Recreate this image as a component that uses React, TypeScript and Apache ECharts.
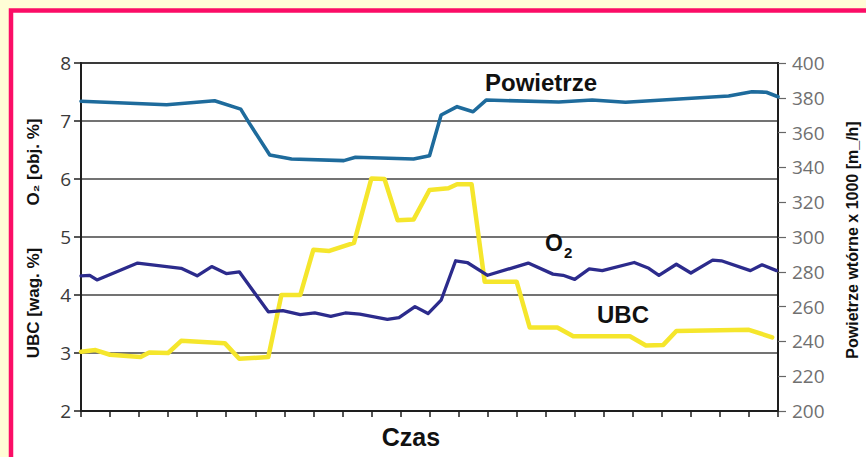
import React, { useEffect, useRef } from "react";
import * as echarts from "echarts";

// Powietrze wtórne (right axis, x1000 m3/h)
const powTime = [0, 2.95, 4.6, 5.5, 5.8, 6.5, 7.25, 9.05, 9.45, 11.45, 12.0, 12.4, 12.95, 13.5, 13.95, 16.45, 17.6, 18.75, 22.3, 23.1, 23.6, 24];
const powValues = [378, 376, 378.3, 373.5, 365.3, 347.1, 344.8, 343.9, 345.8, 344.8, 346.7, 370.1, 374.9, 372, 378.7, 377.6, 378.7, 377.4, 381, 383.5, 383.2, 380.6];

// O2 [obj. %] (left axis)
const o2Time = [0, 0.3, 0.55, 1.95, 3.45, 4.0, 4.5, 5.0, 5.45, 6.45, 6.95, 7.55, 8.05, 8.6, 9.1, 9.6, 10.55, 10.95, 11.5, 11.95, 12.4, 12.9, 13.3, 14.0, 15.4, 16.25, 16.6, 17.0, 17.5, 17.95, 19.05, 19.55, 19.9, 20.5, 21.0, 21.75, 22.05, 23.05, 23.45, 23.95];
const o2Values = [4.33, 4.34, 4.26, 4.55, 4.46, 4.33, 4.49, 4.37, 4.4, 3.71, 3.73, 3.66, 3.69, 3.63, 3.69, 3.67, 3.58, 3.61, 3.8, 3.68, 3.91, 4.59, 4.56, 4.34, 4.55, 4.36, 4.34, 4.27, 4.45, 4.42, 4.56, 4.46, 4.34, 4.53, 4.38, 4.6, 4.59, 4.42, 4.52, 4.42];

// UBC [wag. %] (left axis)
const ubcTime = [0, 0.5, 1.0, 2.05, 2.35, 3.0, 3.45, 4.95, 5.45, 6.45, 6.9, 7.55, 8.0, 8.55, 9.4, 10.0, 10.45, 10.9, 11.45, 12.0, 12.65, 12.95, 13.45, 13.9, 15.0, 15.45, 16.4, 16.95, 18.9, 19.45, 20.05, 20.5, 23.0, 23.8];
const ubcValues = [3.02, 3.05, 2.97, 2.93, 3.01, 3.0, 3.21, 3.17, 2.9, 2.93, 4.0, 4.0, 4.78, 4.76, 4.9, 6.01, 6.0, 5.29, 5.3, 5.81, 5.84, 5.91, 5.91, 4.23, 4.23, 3.44, 3.44, 3.29, 3.29, 3.13, 3.14, 3.38, 3.4, 3.27];

const leftRange = [2, 8];
const rightRange = [200, 400];
const timeRange = [0, 24];

const pair = (t: number[], v: number[]) => t.map((x, i) => [x, v[i]]);

const SANS = "'Liberation Sans', Arial, sans-serif";
const TICK_FONT = "'Open Sans', 'Noto Sans', sans-serif";

export default function App() {
  const ref = useRef<HTMLDivElement>(null);
  useEffect(() => {
    if (!ref.current) return;
    const chart = echarts.init(ref.current, null, { renderer: "svg" });
    chart.setOption({
      animation: false,
      backgroundColor: "#fffdd6",
      grid: {
        left: 81,
        right: 88,
        top: 63,
        bottom: 46,
        show: true,
        borderColor: "#1e1e1e",
        borderWidth: 2,
        backgroundColor: "transparent",
      },
      xAxis: {
        type: "value",
        min: timeRange[0],
        max: timeRange[1],
        interval: 1,
        axisLine: { show: true, lineStyle: { color: "#1e1e1e", width: 2 } },
        axisTick: { show: true, inside: false, length: 6, lineStyle: { color: "#1e1e1e", width: 1.5 } },
        axisLabel: { show: false },
        splitLine: { show: false },
      },
      yAxis: [
        {
          type: "value",
          min: leftRange[0],
          max: leftRange[1],
          interval: 1,
          position: "left",
          axisLine: { show: true, lineStyle: { color: "#1e1e1e", width: 2 } },
          axisTick: { show: true, length: 7, lineStyle: { color: "#1e1e1e", width: 1.5 } },
          axisLabel: { color: "#3a3a3a", fontSize: 19, fontFamily: TICK_FONT, margin: 10 },
          splitLine: { show: true, lineStyle: { color: "#444", width: 1.5 } },
        },
        {
          type: "value",
          min: rightRange[0],
          max: rightRange[1],
          interval: 20,
          position: "right",
          axisLine: { show: true, lineStyle: { color: "#1e1e1e", width: 2 } },
          axisTick: { show: true, length: 8, lineStyle: { color: "#666", width: 1.2 } },
          axisLabel: { color: "#707070", fontSize: 19, fontFamily: TICK_FONT, margin: 14 },
          splitLine: { show: false },
        },
      ],
      series: [
        {
          name: "UBC",
          type: "line",
          yAxisIndex: 0,
          data: pair(ubcTime, ubcValues),
          showSymbol: false,
          lineStyle: { color: "#f5e62c", width: 4.5, join: "round", cap: "round" },
          z: 3,
        },
        {
          name: "O2",
          type: "line",
          yAxisIndex: 0,
          data: pair(o2Time, o2Values),
          showSymbol: false,
          lineStyle: { color: "#2c2b8c", width: 3.3, join: "round", cap: "round" },
          z: 4,
        },
        {
          name: "Powietrze",
          type: "line",
          yAxisIndex: 1,
          data: pair(powTime, powValues),
          showSymbol: false,
          lineStyle: { color: "#1e6b9c", width: 3.6, join: "round", cap: "round" },
          z: 4,
        },
      ],
      graphic: [
        {
          type: "rect",
          silent: true,
          z: -100,
          zlevel: 0,
          shape: { x: 11, y: 10.5, width: 900, height: 500 },
          style: { fill: "#ffffff", stroke: "#fb0d66", lineWidth: 4.5 },
        },
        {
          type: "text",
          x: 485,
          y: 82,
          z: 10,
          style: { text: "Powietrze", fill: "#111", font: `bold 24px ${SANS}`, verticalAlign: "middle" },
        },
        {
          type: "text",
          x: 545,
          y: 243,
          z: 10,
          style: { text: "O", fill: "#111", font: `bold 23px ${SANS}`, verticalAlign: "middle" },
        },
        {
          type: "text",
          x: 564,
          y: 252,
          z: 10,
          style: { text: "2", fill: "#111", font: `bold 15px ${SANS}`, verticalAlign: "middle" },
        },
        {
          type: "text",
          x: 597,
          y: 314,
          z: 10,
          style: { text: "UBC", fill: "#111", font: `bold 24px ${SANS}`, verticalAlign: "middle" },
        },
        {
          type: "text",
          x: 411,
          y: 437,
          z: 10,
          style: { text: "Czas", fill: "#111", font: `bold 25px ${SANS}`, align: "center", verticalAlign: "middle" },
        },
        {
          type: "text",
          x: 33,
          y: 162,
          rotation: Math.PI / 2,
          z: 10,
          style: { text: "O₂ [obj. %]", fill: "#111", font: `bold 17px ${SANS}`, align: "center", verticalAlign: "middle" },
        },
        {
          type: "text",
          x: 33,
          y: 303,
          rotation: Math.PI / 2,
          z: 10,
          style: { text: "UBC [wag. %]", fill: "#111", font: `bold 17px ${SANS}`, align: "center", verticalAlign: "middle" },
        },
        {
          type: "text",
          x: 852,
          y: 240,
          rotation: Math.PI / 2,
          z: 10,
          style: { text: "Powietrze wtórne x 1000 [m_/h]", fill: "#111", font: `bold 16px ${SANS}`, align: "center", verticalAlign: "middle" },
        },
      ],
    });
    return () => chart.dispose();
  }, []);
  return (
    <div
      ref={ref}
      style={{ position: "fixed", left: 0, top: 0, width: 866, height: 457 }}
    />
  );
}
